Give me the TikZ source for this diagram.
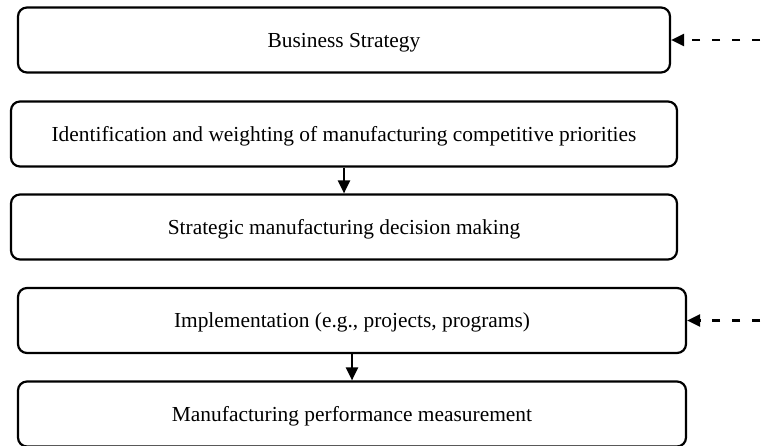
\documentclass[tikz,border=0pt]{standalone}
\usepackage{fontspec}
\setmainfont{Liberation Serif}
\usetikzlibrary{arrows.meta}
\begin{document}
\begin{tikzpicture}[x=0.5pt, y=-0.5pt,
        box/.style={draw=black, line width=1.1pt, rounded corners=4.5pt, minimum height=32.5pt, inner sep=0pt, text height=7.3pt, text depth=0pt, font=\fontsize{10.7}{12.8}\selectfont},
        flow/.style={-{Triangle[length=6.5pt, width=6pt]}, line width=1.1pt},
        feed/.style={flow, dash pattern=on 4pt off 6pt, dash phase=8pt}]
        \useasboundingbox (0, 0) rectangle (764, 445);

        \node[box, minimum width=326pt] (strategy) at (344, 40) {Business Strategy};
        \node[box, minimum width=333pt] (priorities) at (344, 134) {Identification and weighting of manufacturing competitive priorities};
        \node[box, minimum width=333pt] (decision) at (344, 227) {Strategic manufacturing decision making};
        \node[box, minimum width=334pt] (implement) at (352, 320.5) {Implementation (e.g., projects, programs)};
        \node[box, minimum width=334pt] (measure) at (352, 414) {Manufacturing performance measurement};

        \draw[flow] (priorities.south) -- (decision.north);
        \draw[flow] (implement.south) -- (measure.north);

        \coordinate (fbtop) at (764, 40);
        \coordinate (fbbot) at (764, 320.5);
        \draw[feed] (fbtop) -- (strategy.east);
        \draw[feed] (fbbot) -- (implement.east);
\end{tikzpicture}
\end{document}
